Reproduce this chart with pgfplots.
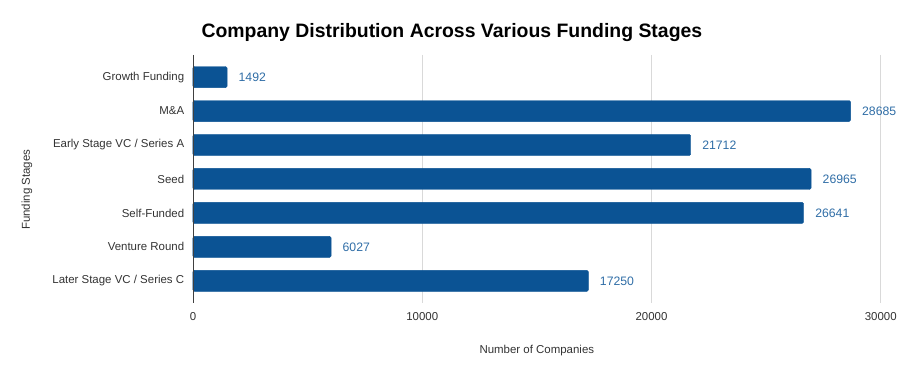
\documentclass[border=0pt]{standalone}
\usepackage{pgfplots}
\pgfplotsset{compat=1.18}
\usepackage{fontspec}
\setmainfont{Liberation Sans}
\definecolor{barblue}{HTML}{0B5394}
\definecolor{lblblue}{HTML}{2F6DA6}
\definecolor{gridgray}{HTML}{D9D9D9}
\definecolor{txt}{HTML}{333333}
\begin{document}
\begin{tikzpicture}
\begin{axis}[
  at={(0,0)}, anchor=south west,
  scale only axis,
  width=688bp, height=248bp,
  xmin=0, xmax=30000,
  ymin=-0.65, ymax=6.65,
  y dir=reverse,
  xbar, bar width=0.62,
  axis line style={draw=none},
  xtick={0,10000,20000,30000},
  ytick={0,1,2,3,4,5,6},
  yticklabels={Growth Funding, M\&A, Early Stage VC / Series A, Seed, Self-Funded, Venture Round, Later Stage VC / Series C},
  tick style={draw=none},
  xmajorgrids, major grid style={gridgray, line width=0.8pt},
  /pgf/number format/assume math mode=true,
  scaled x ticks=false,
  xticklabel style={/pgf/number format/1000 sep={}, font=\fontsize{11.5}{13}\selectfont, text=txt},
  yticklabel style={font=\fontsize{11.5}{13}\selectfont, text=txt},
  xticklabel shift=6bp,
  yticklabel shift=1bp,
  xlabel={Number of Companies},
  ylabel={Funding Stages},
  xlabel style={font=\fontsize{11.5}{13}\selectfont, text=txt, at={(axis description cs:0.5,0)}, anchor=north, yshift=-39bp},
  ylabel style={font=\fontsize{11.5}{13}\selectfont, text=txt, at={(axis description cs:-0.2413,0.456)}, anchor=center},
  title={Company Distribution Across Various Funding Stages},
  title style={font=\bfseries\fontsize{19.5}{22}\selectfont, at={(axis description cs:0.5,1)}, anchor=south, yshift=4bp, xshift=-85bp},
  nodes near coords,
  nodes near coords style={font=\fontsize{12.3}{14}\selectfont, text=lblblue, anchor=west, xshift=8bp, /pgf/number format/1000 sep={}},
  point meta=x,
  clip=false,
  enlargelimits=false,
]
\addplot[fill=barblue, draw=barblue, rounded corners=1.5pt] coordinates {
(1492,0) (28685,1) (21712,2) (26965,3) (26641,4) (6027,5) (17250,6)
};
\draw[black!75, line width=0.8pt] (axis cs:0,-0.65) -- (axis cs:0,6.65);
\end{axis}
\path[use as bounding box] (-193bp,-71bp) rectangle (707bp,303bp);
\end{tikzpicture}
\end{document}
